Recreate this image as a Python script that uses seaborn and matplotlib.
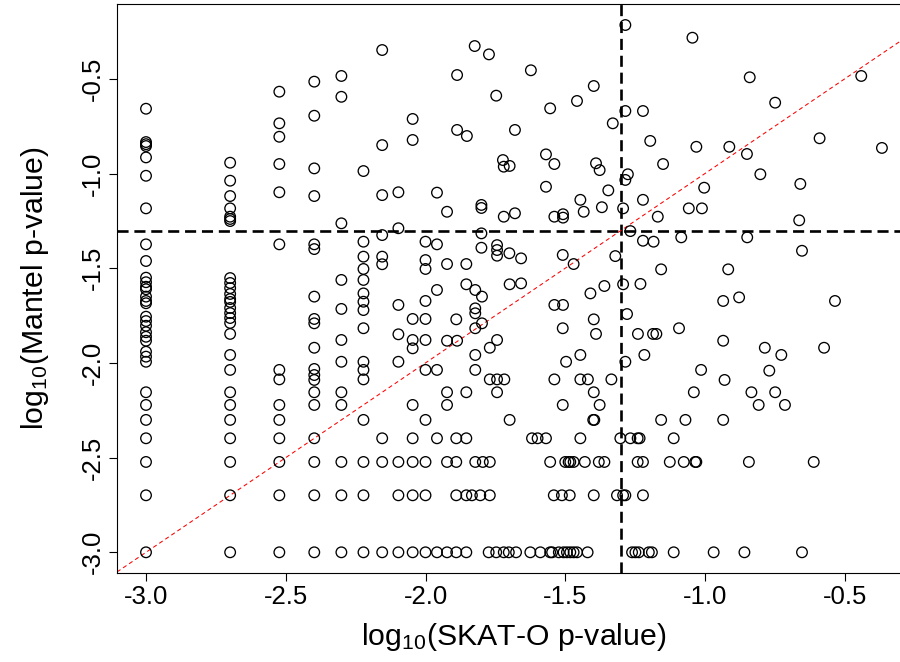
import numpy as np
import pandas as pd
import matplotlib
matplotlib.use("Agg")
import matplotlib.pyplot as plt
import seaborn as sns

# ---- data: log10 p-values ----
# discrete SKAT-O columns (x) with their Mantel values (y)
col_x = [-3.0, -2.699, -2.523, -2.398, -2.301, -2.222, -2.155, -2.097, -2.046, -2.0, -1.959]
col_y = [
    [-0.658, -0.834, -0.845, -0.855, -0.915, -1.012, -1.184, -1.374, -1.462, -1.550, -1.574, -1.598,
     -1.611, -1.650, -1.673, -1.685, -1.756, -1.779, -1.804, -1.838, -1.862, -1.883, -1.941, -1.967,
     -1.994, -2.155, -2.222, -2.301, -2.398, -2.523, -2.699, -3.0],
    [-0.943, -1.038, -1.119, -1.184, -1.228, -1.240, -1.251, -1.552, -1.578, -1.605, -1.636, -1.663,
     -1.678, -1.710, -1.737, -1.763, -1.789, -1.847, -1.958, -2.037, -2.155, -2.222, -2.301, -2.398,
     -2.523, -2.699, -3.0],
    [-0.568, -0.735, -0.806, -0.950, -1.099, -1.374, -2.037, -2.087, -2.222, -2.301, -2.398, -2.523,
     -2.699, -3.0],
    [-0.515, -0.695, -0.973, -1.119, -1.374, -1.399, -1.650, -1.768, -1.791, -1.920, -2.032, -2.064,
     -2.090, -2.155, -2.222, -2.398, -2.523, -2.699, -3.0],
    [-0.485, -0.595, -1.263, -1.562, -1.715, -1.879, -1.994, -2.155, -2.222, -2.523, -2.699, -3.0],
    [-0.987, -1.360, -1.439, -1.504, -1.562, -1.633, -1.677, -1.721, -1.817, -1.994, -2.037, -2.087,
     -2.301, -2.523, -2.699, -3.0],
    [-0.348, -0.850, -1.114, -1.325, -1.439, -1.479, -2.398, -2.523, -3.0],
    [-1.099, -1.289, -1.694, -1.849, -1.994, -2.523, -2.699, -3.0],
    [-0.712, -0.823, -1.768, -1.879, -1.923, -2.222, -2.398, -2.523, -2.699, -3.0],
    [-1.360, -1.457, -1.504, -1.673, -1.768, -1.879, -2.037, -2.301, -2.523, -2.699, -3.0],
    [-1.101, -1.374, -1.615, -2.037, -2.398, -3.0],
]

# discrete Mantel rows (y) with SKAT-O values (x) beyond the columns above
row_y = [-2.398, -2.523, -2.699, -3.0]
row_x = [
    [-1.890, -1.854, -1.619, -1.599, -1.569, -1.446, -1.303, -1.267, -1.241, -1.234, -1.112],
    [-1.923, -1.890, -1.822, -1.795, -1.770, -1.554, -1.500, -1.488, -1.482, -1.470, -1.430, -1.380,
     -1.360, -1.241, -1.222, -1.126, -1.076, -1.035, -1.031, -0.843, -0.611],
    [-1.890, -1.854, -1.834, -1.804, -1.770, -1.541, -1.512, -1.484, -1.398, -1.315, -1.293, -1.285,
     -1.222],
    [-1.923, -1.890, -1.854, -1.774, -1.747, -1.720, -1.702, -1.676, -1.625, -1.589, -1.554, -1.547,
     -1.523, -1.506, -1.494, -1.482, -1.470, -1.458, -1.420, -1.261, -1.249, -1.237, -1.201, -1.190,
     -1.112, -0.969, -0.859, -0.653],
]

# remaining scattered points
mid_x = [-1.887, -1.824, -1.773, -1.747, -1.680, -1.887, -1.852, -1.723, -1.720, -1.699,
         -1.923, -1.800, -1.800, -1.720, -1.680, -1.800, -1.800, -1.744, -1.744, -1.744,
         -1.700, -1.923, -1.854, -1.854, -1.822, -1.798, -1.699, -1.822, -1.822, -1.890,
         -1.798, -1.822, -1.923, -1.887, -1.744, -1.770, -1.822, -1.822, -1.770, -1.744,
         -1.718, -1.923, -1.854, -1.744, -1.923, -1.699]
mid_y = [-0.480, -0.327, -0.371, -0.589, -0.770, -0.770, -0.802, -0.929, -0.964, -0.960,
         -1.202, -1.166, -1.182, -1.228, -1.210, -1.316, -1.392, -1.378, -1.404, -1.434,
         -1.421, -1.478, -1.478, -1.585, -1.615, -1.650, -1.585, -1.712, -1.738, -1.770,
         -1.791, -1.817, -1.883, -1.883, -1.879, -1.920, -1.958, -2.037, -2.087, -2.087,
         -2.087, -2.155, -2.155, -2.155, -2.222, -2.301]

right_x = [-1.285, -1.045, -1.623, -1.398, -1.458, -1.554, -1.285, -1.222, -1.330, -1.196,
           -1.031, -1.569, -1.539, -1.390, -1.377, -1.150, -1.276, -1.285, -1.569, -1.346,
           -1.003, -1.446, -1.222, -1.539, -1.508, -1.508, -1.434, -1.369, -1.293, -1.169,
           -1.058, -1.011, -1.267, -1.222, -1.184, -1.085, -1.658, -1.509, -1.470, -1.321,
           -1.157, -1.658, -1.360, -1.293, -1.231, -1.410, -1.539, -1.508, -1.279, -1.398,
           -1.509, -1.390, -1.240, -1.186, -1.174, -1.093, -1.446, -1.497, -1.285, -1.217,
           -1.014, -1.539, -1.446, -1.419, -1.335, -1.398, -1.040, -1.509, -1.377, -1.400,
           -1.396, -1.157, -1.070]
right_y = [-0.216, -0.283, -0.455, -0.538, -0.617, -0.656, -0.670, -0.670, -0.735, -0.828,
           -0.859, -0.899, -0.950, -0.946, -0.982, -0.950, -1.004, -1.034, -1.070, -1.089,
           -1.075, -1.139, -1.139, -1.228, -1.215, -1.233, -1.202, -1.178, -1.184, -1.228,
           -1.184, -1.184, -1.304, -1.355, -1.360, -1.337, -1.448, -1.430, -1.478, -1.436,
           -1.506, -1.580, -1.594, -1.585, -1.583, -1.633, -1.694, -1.694, -1.742, -1.770,
           -1.817, -1.847, -1.847, -1.847, -1.847, -1.817, -1.958, -1.994, -1.994, -1.958,
           -2.037, -2.087, -2.087, -2.087, -2.087, -2.155, -2.155, -2.222, -2.222, -2.301,
           -2.301, -2.301, -2.301]

far_x = [-0.840, -0.441, -0.749, -0.913, -0.850, -0.590, -0.367, -0.802, -0.659, -0.663,
         -0.849, -0.653, -0.917, -0.935, -0.878, -0.535, -0.935, -0.786, -0.727, -0.574,
         -0.770, -0.930, -0.834, -0.749, -0.808, -0.714, -0.935]
far_y = [-0.492, -0.485, -0.626, -0.859, -0.897, -0.814, -0.865, -1.004, -1.055, -1.247,
         -1.337, -1.408, -1.506, -1.673, -1.654, -1.673, -1.883, -1.920, -1.958, -1.920,
         -2.041, -2.090, -2.155, -2.155, -2.222, -2.222, -2.301]

cutoff = np.log10(0.05)

# ---- assemble table ----
xs, ys = [], []
for cx, cys in zip(col_x, col_y):
    xs += [cx] * len(cys)
    ys += cys
for ry, rxs in zip(row_y, row_x):
    xs += rxs
    ys += [ry] * len(rxs)
xs += mid_x + right_x + far_x
ys += mid_y + right_y + far_y
df = pd.DataFrame({"skat": xs, "mantel": ys})

# ---- style ----
sns.set_style("white")
plt.rcParams["font.family"] = ["Liberation Sans", "DejaVu Sans"]
plt.rcParams["mathtext.fontset"] = "custom"
plt.rcParams["mathtext.rm"] = "Liberation Sans"
plt.rcParams["mathtext.it"] = "Liberation Sans:italic"
plt.rcParams["axes.unicode_minus"] = False

fig = plt.figure(figsize=(9, 6.62), dpi=100)
ax = fig.add_axes([117 / 900, 89 / 662, (911 - 117) / 900, (573 - 4) / 662])

sns.scatterplot(data=df, x="skat", y="mantel", ax=ax, marker="o", s=58,
                color="black", linewidth=0.95, legend=False, zorder=3)
for coll in ax.collections:
    coll.set_facecolor("none")
    coll.set_edgecolor("black")

ax.axvline(cutoff, color="black", lw=1.9, dashes=(4.2, 2.2), zorder=2)
ax.axhline(cutoff, color="black", lw=1.9, dashes=(4.2, 2.2), zorder=2)
ax.axline((0, 0), slope=1, color="red", lw=0.75, dashes=(4, 3), zorder=2)

ax.set_xlim(-3.1038, -0.263)
ax.set_ylim(-3.1093, -0.105)
ticks = [-3.0, -2.5, -2.0, -1.5, -1.0, -0.5]
ax.set_xticks(ticks)
ax.set_yticks(ticks)
ax.set_xticklabels([f"{t:.1f}" for t in ticks])
ax.set_yticklabels([f"{t:.1f}" for t in ticks], rotation=90, va="center")
ax.tick_params(axis="both", direction="out", length=5.5, width=0.8, color="black",
               labelsize=18.5, labelcolor="black", bottom=True, left=True)
ax.tick_params(axis="x", pad=3)
ax.tick_params(axis="y", pad=3)
for sp in ax.spines.values():
    sp.set_color("black")
    sp.set_linewidth(0.8)

ax.set_xlabel(r"log$_{\mathregular{10}}$(SKAT-O p-value)", fontsize=21.8, color="black", labelpad=9)
ax.set_ylabel(r"log$_{\mathregular{10}}$(Mantel p-value)", fontsize=21.8, color="black", labelpad=22)

fig.savefig("out.png", dpi=100, facecolor="white")
